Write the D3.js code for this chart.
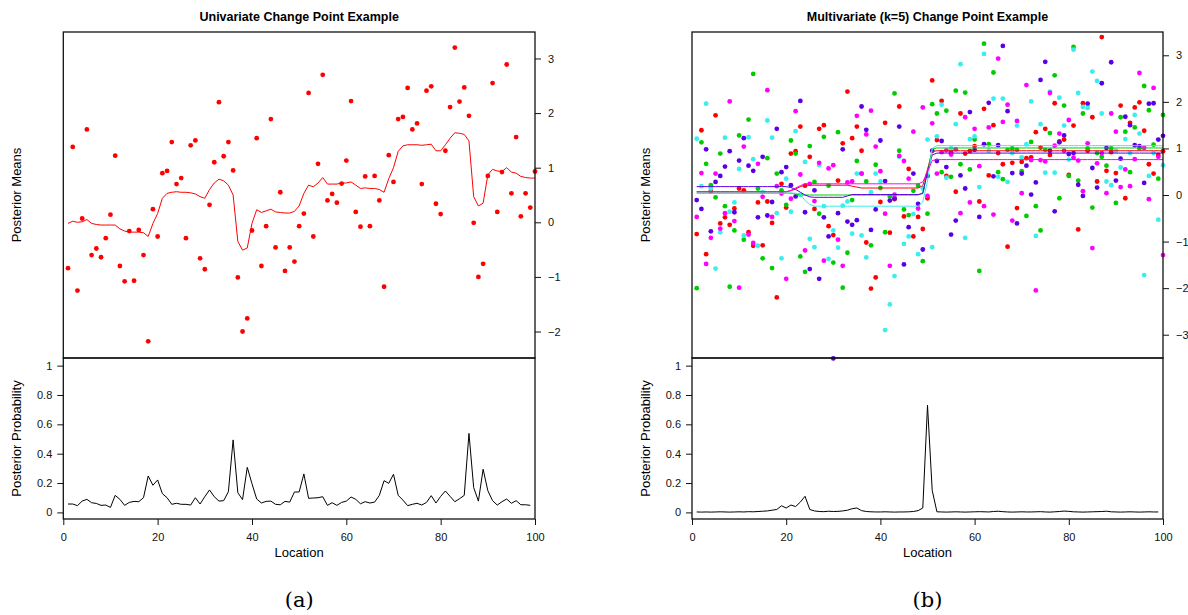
<!DOCTYPE html>
<html>
<head>
<meta charset="utf-8">
<script src="https://cdn.jsdelivr.net/npm/d3@7"></script>
<style>
body { margin: 0; background: #fff; }
text { font-family: "Liberation Sans", Arial, sans-serif; }
</style>
</head>
<body>
<script>
// ---- univariate example ----
var uniObs = [-0.84,1.38,-1.25,0.07,1.70,-0.60,-0.48,-0.64,-0.29,0.14,
  1.22,-0.80,-1.08,-0.16,-1.07,-0.14,-0.60,-2.18,0.24,-0.26,
  0.90,0.94,1.47,0.70,0.81,-0.29,1.41,1.50,-0.66,-0.86,
  0.32,1.10,2.20,1.21,1.47,0.95,-1.01,-2.00,-1.76,-0.15,
  1.54,-0.80,-0.07,1.89,-0.46,0.55,-0.89,-0.46,-0.72,-0.07,
  0.16,2.37,-0.26,1.07,2.70,0.40,0.52,0.36,0.71,1.13,
  2.22,0.19,-0.08,0.84,-0.07,0.85,0.40,-1.18,1.23,0.74,
  1.89,1.93,2.46,1.70,1.81,0.70,2.41,2.49,0.34,0.15,
  1.31,2.11,3.20,2.21,2.47,1.95,-0.01,-1.00,-0.76,0.85,
  2.55,0.19,0.92,2.89,0.53,1.56,0.11,0.53,0.27,0.93];

var uniMean = [-0.02,0.02,0.00,0.01,0.05,-0.02,-0.04,-0.05,-0.05,-0.05,
  -0.05,-0.12,-0.16,-0.18,-0.18,-0.18,-0.19,-0.26,-0.02,0.16,
  0.44,0.53,0.55,0.56,0.55,0.55,0.54,0.52,0.47,0.44,
  0.60,0.72,0.79,0.76,0.68,0.50,-0.35,-0.51,-0.47,-0.02,
  0.23,0.18,0.21,0.24,0.19,0.18,0.17,0.17,0.20,0.30,
  0.53,0.68,0.65,0.72,0.82,0.70,0.70,0.70,0.72,0.72,
  0.74,0.68,0.62,0.63,0.62,0.62,0.60,0.55,0.80,1.00,
  1.30,1.40,1.42,1.42,1.42,1.41,1.42,1.43,1.31,1.31,
  1.42,1.54,1.64,1.63,1.61,1.49,0.47,0.30,0.35,0.87,
  0.97,0.94,0.93,1.00,0.92,0.90,0.84,0.82,0.81,0.81];

var uniProb = [0.057,0.057,0.046,0.077,0.089,0.066,0.061,0.048,0.050,0.034,
  0.116,0.089,0.048,0.068,0.075,0.073,0.100,0.248,0.185,0.221,
  0.128,0.100,0.055,0.062,0.055,0.055,0.050,0.100,0.057,0.107,
  0.153,0.107,0.077,0.080,0.141,0.494,0.134,0.087,0.307,0.196,
  0.091,0.064,0.075,0.077,0.055,0.052,0.075,0.070,0.139,0.139,
  0.262,0.096,0.098,0.100,0.107,0.048,0.066,0.048,0.068,0.077,
  0.105,0.089,0.059,0.073,0.064,0.070,0.116,0.216,0.198,0.260,
  0.116,0.084,0.046,0.055,0.062,0.050,0.068,0.114,0.064,0.109,
  0.146,0.109,0.073,0.093,0.116,0.538,0.169,0.077,0.294,0.148,
  0.080,0.050,0.073,0.091,0.062,0.080,0.052,0.052,0.048];

// ---- multivariate (k=5) example ----
var obsRed = [-0.84,1.39,-1.27,0.08,1.71,-0.61,-0.48,-0.64,-0.29,0.14,
  0.10,-0.80,-1.09,-0.16,-1.08,-0.14,-0.60,-2.20,0.24,-0.27,
  0.89,0.94,1.47,0.20,0.82,-0.30,1.42,1.50,-0.67,-0.86,
  0.31,1.11,2.22,1.22,1.47,0.95,-1.02,-2.01,-1.77,-0.15,
  1.55,-0.81,-0.09,1.90,-0.46,0.56,-0.89,-0.47,-0.73,-0.07,
  2.46,1.18,2.02,0.41,0.92,0.07,1.75,0.89,0.94,1.05,
  -0.14,1.85,0.42,1.50,0.90,0.66,-1.11,0.69,-0.28,0.71,
  0.79,0.81,1.35,1.02,1.42,0.86,1.97,1.15,1.19,0.43,
  1.49,-0.74,1.97,0.95,1.67,0.29,3.39,0.52,0.92,0.47,
  1.92,-0.07,1.55,1.88,1.99,1.38,0.66,0.46,0.86,0.94];

var obsGreen = [-2.00,1.13,0.67,0.21,-0.05,0.89,-0.24,-1.97,-0.76,1.28,
  -0.96,1.62,2.60,0.14,-1.36,0.79,-1.57,0.46,0.10,-0.21,
  1.17,0.89,-1.32,-1.65,1.05,0.28,-0.40,1.25,0.20,-1.45,
  1.35,-1.99,-1.24,-0.11,0.73,0.46,0.29,-1.08,0.65,0.15,
  -0.80,-0.03,2.18,0.95,-0.31,-0.43,0.09,0.20,-1.42,-0.40,
  1.95,1.75,0.49,1.81,0.39,2.24,0.66,2.20,0.55,1.19,
  -1.63,3.25,1.09,2.63,0.49,0.34,0.97,1.00,0.97,0.51,
  -0.45,1.14,-0.24,-0.76,0.97,1.33,2.57,-0.07,1.92,0.41,
  3.18,0.31,1.75,1.00,-0.27,0.90,0.82,0.63,1.00,-0.17,
  1.67,1.36,0.49,1.45,1.00,2.34,1.82,1.08,0.35,1.72];

var obsBlue = [-0.11,-0.30,0.98,-0.78,0.28,0.41,0.61,0.94,-0.37,0.74,
  1.22,0.63,0.52,-0.48,0.82,-0.44,-0.15,1.42,0.49,0.60,
  0.21,-0.03,2.02,-0.37,-1.59,0.10,-1.80,-0.48,-0.89,-3.51,
  -0.39,0.98,-0.57,-0.64,-0.54,1.90,1.40,-0.75,-0.31,1.17,
  0.30,-0.12,-0.07,1.47,-1.49,-0.69,0.46,-0.19,-1.17,0.41,
  0.95,0.73,1.16,0.60,-0.85,-0.55,0.42,0.14,1.78,0.97,
  -0.47,1.09,1.98,0.40,1.07,3.20,1.80,0.47,-0.61,0.46,
  0.63,0.01,0.27,2.47,2.86,0.95,-0.35,1.13,1.28,0.88,
  0.90,0.22,-0.02,1.96,0.58,0.16,2.40,1.01,2.85,0.31,
  0.78,1.68,1.50,1.07,1.05,0.26,1.96,1.97,1.19,1.27];

var obsCyan = [1.21,0.19,1.96,0.14,-1.58,-0.80,1.23,-0.36,-0.16,0.56,
  -0.87,1.24,0.77,-1.09,0.06,1.60,1.23,-0.39,-1.36,0.35,
  -0.36,1.37,0.00,0.71,-0.94,-1.12,0.64,-0.24,-1.37,-0.76,
  -1.13,-0.23,-0.14,-0.83,0.46,-0.87,-1.34,0.06,0.46,0.29,
  -2.90,-2.35,-1.74,0.82,-1.05,-0.89,-0.41,-1.27,0.14,1.19,
  -1.12,1.26,1.94,0.37,1.00,1.52,2.81,-0.92,1.20,1.26,
  0.17,3.03,0.95,2.07,0.39,2.07,0.28,0.90,1.49,0.81,
  1.09,2.01,-0.88,1.52,0.48,2.22,0.48,2.09,1.49,0.76,
  3.12,2.19,1.89,1.87,2.65,2.45,1.75,0.29,0.21,0.95,
  0.59,1.20,0.90,1.72,1.32,-1.72,0.41,0.90,-0.53,0.64];

var obsMagenta = [-0.47,0.47,-1.48,-0.92,0.46,-0.72,-0.39,2.01,-0.56,-1.99,
  1.04,-0.85,-1.03,0.67,-0.04,2.25,-0.47,0.19,0.03,-1.80,
  -0.08,1.80,0.44,-1.19,0.24,-0.13,0.69,-1.41,0.57,0.64,
  -0.96,-1.52,0.27,0.29,1.70,0.46,1.30,1.81,1.04,0.51,
  -0.40,-1.52,0.01,0.84,0.73,0.35,1.36,-0.29,1.88,-0.02,
  1.54,0.46,0.92,0.96,0.87,0.98,-0.39,1.67,-0.16,1.42,
  0.62,-0.24,1.45,-0.42,2.93,1.57,1.94,-0.55,1.59,0.04,
  2.36,0.75,-2.05,0.75,0.72,2.19,1.06,1.32,0.95,1.61,
  0.80,0.74,0.08,1.11,-1.14,0.68,0.90,0.04,1.75,1.36,
  0.17,0.55,0.19,0.77,2.62,1.01,-0.09,2.30,0.82,-1.29];

var meanRed = [0.07,0.07,0.07,0.07,0.07,0.07,0.07,0.07,0.07,0.07,
  0.07,0.07,0.07,0.07,0.07,0.07,0.07,0.07,0.07,0.07,
  0.09,0.13,0.18,0.21,0.21,0.21,0.21,0.21,0.21,0.21,
  0.21,0.21,0.21,0.19,0.17,0.15,0.15,0.15,0.15,0.15,
  0.15,0.15,0.15,0.15,0.15,0.15,0.15,0.15,0.20,0.55,
  0.93,0.95,0.95,0.95,0.95,0.95,0.95,0.95,0.95,0.95,
  0.95,0.95,0.95,0.95,0.95,0.95,0.95,0.95,0.95,0.95,
  0.95,0.95,0.95,0.95,0.95,0.95,0.95,0.95,0.95,0.95,
  0.95,0.95,0.95,0.95,0.95,0.95,0.95,0.95,0.95,0.95,
  0.95,0.95,0.95,0.95,0.95,0.95,0.95,0.95,0.95,0.95];

var meanGreen = [0.04,0.04,0.04,0.04,0.04,0.04,0.04,0.04,0.04,0.04,
  0.04,0.04,0.04,0.04,0.04,0.04,0.04,0.04,0.04,0.04,
  0.04,0.02,0.00,0.00,0.00,0.00,0.00,0.00,0.00,0.00,
  0.00,0.00,0.00,0.00,0.00,0.00,0.00,0.00,0.00,0.00,
  0.00,0.00,0.00,0.00,0.00,0.00,0.00,0.00,0.05,0.50,
  0.98,1.01,1.01,1.01,1.01,1.01,1.01,1.01,1.01,1.01,
  1.01,1.01,1.01,1.01,1.01,1.01,1.01,1.01,1.01,1.01,
  1.01,1.01,1.01,1.01,1.01,1.01,1.01,1.01,1.01,1.01,
  1.01,1.01,1.01,1.01,1.01,1.01,1.01,1.01,1.01,1.01,
  1.01,1.01,1.01,1.01,1.01,1.01,1.01,1.01,1.01,1.01];

var meanBlue = [0.18,0.18,0.18,0.18,0.18,0.18,0.18,0.18,0.18,0.18,
  0.18,0.18,0.18,0.18,0.18,0.18,0.18,0.18,0.18,0.18,
  0.16,0.12,0.06,0.00,-0.04,-0.05,-0.05,-0.05,-0.05,-0.05,
  -0.05,-0.05,-0.02,0.01,0.01,0.01,0.01,0.01,0.01,0.01,
  0.01,0.01,0.01,0.01,0.01,0.01,0.01,0.01,0.03,0.50,
  0.86,0.90,0.90,0.90,0.90,0.90,0.90,0.90,0.90,0.90,
  0.90,0.90,0.90,0.90,0.90,0.90,0.90,0.90,0.90,0.90,
  0.90,0.90,0.90,0.90,0.90,0.90,0.90,0.90,0.90,0.90,
  0.90,0.90,0.90,0.90,0.90,0.90,0.90,0.90,0.90,0.90,
  0.90,0.90,0.90,0.90,0.90,0.90,0.90,0.90,0.90,0.90];

var meanCyan = [0.04,0.04,0.04,0.04,0.04,0.04,0.04,0.04,0.04,0.04,
  0.04,0.04,0.04,0.04,0.04,0.04,0.04,0.04,0.04,0.04,
  0.04,0.04,0.02,-0.12,-0.20,-0.24,-0.24,-0.24,-0.24,-0.24,
  -0.24,-0.24,-0.24,-0.24,-0.24,-0.24,-0.24,-0.24,-0.24,-0.24,
  -0.24,-0.24,-0.24,-0.24,-0.24,-0.24,-0.24,-0.24,-0.15,0.30,
  1.00,1.06,1.06,1.06,1.06,1.06,1.06,1.06,1.06,1.06,
  1.06,1.06,1.06,1.06,1.06,1.06,1.06,1.06,1.06,1.06,
  1.06,1.06,1.06,1.06,1.06,1.06,1.06,1.06,1.06,1.06,
  1.06,1.06,1.06,1.06,1.06,1.06,1.06,1.06,1.06,1.06,
  1.06,1.06,1.06,1.06,1.06,1.06,1.06,1.06,1.06,1.06];

var meanMagenta = [0.07,0.07,0.07,0.07,0.07,0.07,0.07,0.07,0.07,0.07,
  0.07,0.07,0.07,0.07,0.07,0.07,0.07,0.07,0.07,0.07,
  0.10,0.15,0.20,0.24,0.24,0.24,0.24,0.24,0.24,0.24,
  0.24,0.24,0.24,0.24,0.24,0.24,0.24,0.24,0.24,0.24,
  0.24,0.24,0.24,0.24,0.24,0.24,0.24,0.24,0.28,0.50,
  0.74,0.76,0.76,0.76,0.76,0.76,0.76,0.76,0.76,0.76,
  0.76,0.76,0.76,0.76,0.76,0.76,0.76,0.76,0.76,0.76,
  0.76,0.76,0.76,0.76,0.76,0.76,0.76,0.76,0.76,0.76,
  0.76,0.76,0.76,0.76,0.76,0.76,0.76,0.76,0.76,0.76,
  0.76,0.76,0.76,0.76,0.76,0.76,0.76,0.76,0.76,0.76];

var multiProb = [0.003,0.002,0.003,0.002,0.003,0.004,0.003,0.002,0.003,0.004,
  0.003,0.005,0.004,0.006,0.008,0.010,0.015,0.020,0.045,0.030,
  0.050,0.040,0.070,0.110,0.020,0.010,0.006,0.005,0.008,0.006,
  0.007,0.010,0.015,0.025,0.030,0.012,0.006,0.004,0.003,0.003,
  0.004,0.003,0.002,0.003,0.003,0.004,0.006,0.012,0.030,0.730,
  0.150,0.004,0.003,0.002,0.003,0.004,0.003,0.002,0.003,0.004,
  0.005,0.004,0.003,0.006,0.008,0.005,0.003,0.002,0.003,0.004,
  0.003,0.003,0.004,0.005,0.003,0.002,0.004,0.006,0.009,0.007,
  0.004,0.003,0.002,0.003,0.004,0.005,0.006,0.008,0.004,0.003,
  0.002,0.003,0.004,0.003,0.002,0.003,0.004,0.003,0.003];

var xTicks = [0, 20, 40, 60, 80, 100];
var probTicks = [0, 0.2, 0.4, 0.6, 0.8, 1];
var uniTicks = [-2, -1, 0, 1, 2, 3];
var multiTicks = [-3, -2, -1, 0, 1, 2, 3];

var colRed = '#ff0000', colGreen = '#00cd00', colBlue = '#5a00e6',
    colCyan = '#38eeee', colMagenta = '#ff00ff';

var svg = d3.select('body').append('svg')
            .attr('width', 1188)
            .attr('height', 615);

var topY0 = 32, midY = 358, botY1 = 519;

function fmt(d) {
    return d < 0 ? '\u2212' + Math.abs(d) : String(d);
}

function drawPanel(left, right, title, caption, yDomain, yTicks, series, prob) {
    var cx = (left + right) / 2;
    var x = d3.scaleLinear().domain([0, 100]).range([left, right]);
    var y = d3.scaleLinear().domain(yDomain).range([midY, topY0]);
    var yp = d3.scaleLinear().domain([-0.045, 1.052]).range([botY1, midY]);

    var g = svg.append('g');

    // points first, then the posterior mean lines
    series.forEach(function(s) {
        g.selectAll(null).data(s.obs).enter().append('circle')
         .attr('cx', function(d, i) { return x(i + 1); })
         .attr('cy', function(d) { return y(d); })
         .attr('r', 2.4)
         .attr('fill', s.color);
    });
    var line = d3.line()
                 .x(function(d, i) { return x(i + 1); })
                 .y(function(d) { return y(d); });
    series.forEach(function(s) {
        g.append('path').attr('d', line(s.mean))
         .attr('fill', 'none').attr('stroke', s.color).attr('stroke-width', 1);
    });

    var pline = d3.line()
                  .x(function(d, i) { return x(i + 1); })
                  .y(function(d) { return yp(d); });
    g.append('path').attr('d', pline(prob))
     .attr('fill', 'none').attr('stroke', '#000').attr('stroke-width', 1);

    // boxes
    g.append('rect').attr('x', left).attr('y', topY0)
     .attr('width', right - left).attr('height', midY - topY0)
     .attr('fill', 'none').attr('stroke', '#111').attr('stroke-width', 1.3);
    g.append('rect').attr('x', left).attr('y', midY)
     .attr('width', right - left).attr('height', botY1 - midY)
     .attr('fill', 'none').attr('stroke', '#111').attr('stroke-width', 1.3);

    // axes
    var ax = g.append('g').attr('transform', 'translate(' + right + ',0)')
              .call(d3.axisRight(y).tickValues(yTicks).tickFormat(fmt).tickSize(6).tickPadding(7));
    var bx = g.append('g').attr('transform', 'translate(' + left + ',0)')
              .call(d3.axisLeft(yp).tickValues(probTicks).tickFormat(fmt).tickSize(6).tickPadding(5));
    var xx = g.append('g').attr('transform', 'translate(0,' + botY1 + ')')
              .call(d3.axisBottom(x).tickValues(xTicks).tickSize(6).tickPadding(8));
    [ax, bx, xx].forEach(function(a) {
        a.select('.domain').remove();
        a.selectAll('line').attr('stroke', '#111');
        a.selectAll('text').attr('font-size', 11).attr('fill', '#111')
         .style('font-family', '"Liberation Sans", Arial, sans-serif');
    });

    // labels
    g.append('text').attr('x', cx).attr('y', 21).attr('text-anchor', 'middle')
     .attr('font-size', 12.5).attr('font-weight', 'bold').text(title);
    g.append('text').attr('transform', 'translate(' + (left - 42) + ',' + ((topY0 + midY) / 2) + ') rotate(-90)')
     .attr('text-anchor', 'middle').attr('font-size', 13).text('Posterior Means');
    g.append('text').attr('transform', 'translate(' + (left - 42) + ',' + ((midY + botY1) / 2) + ') rotate(-90)')
     .attr('text-anchor', 'middle').attr('font-size', 13).text('Posterior Probability');
    g.append('text').attr('x', cx).attr('y', 557).attr('text-anchor', 'middle')
     .attr('font-size', 13).text('Location');
    g.append('text').attr('x', cx).attr('y', 607).attr('text-anchor', 'middle')
     .attr('font-size', 21).style('font-family', '"DejaVu Serif", "Liberation Serif", serif')
     .text(caption);
}

drawPanel(63.3, 535, 'Univariate Change Point Example', '(a)',
          [-2.485, 3.485], uniTicks,
          [{obs: uniObs, mean: uniMean, color: colRed}], uniProb);

drawPanel(692, 1163, 'Multivariate (k=5) Change Point Example', '(b)',
          [-3.5, 3.5], multiTicks,
          [{obs: obsRed, mean: meanRed, color: colRed},
           {obs: obsGreen, mean: meanGreen, color: colGreen},
           {obs: obsBlue, mean: meanBlue, color: colBlue},
           {obs: obsCyan, mean: meanCyan, color: colCyan},
           {obs: obsMagenta, mean: meanMagenta, color: colMagenta}], multiProb);
</script>
</body>
</html>
